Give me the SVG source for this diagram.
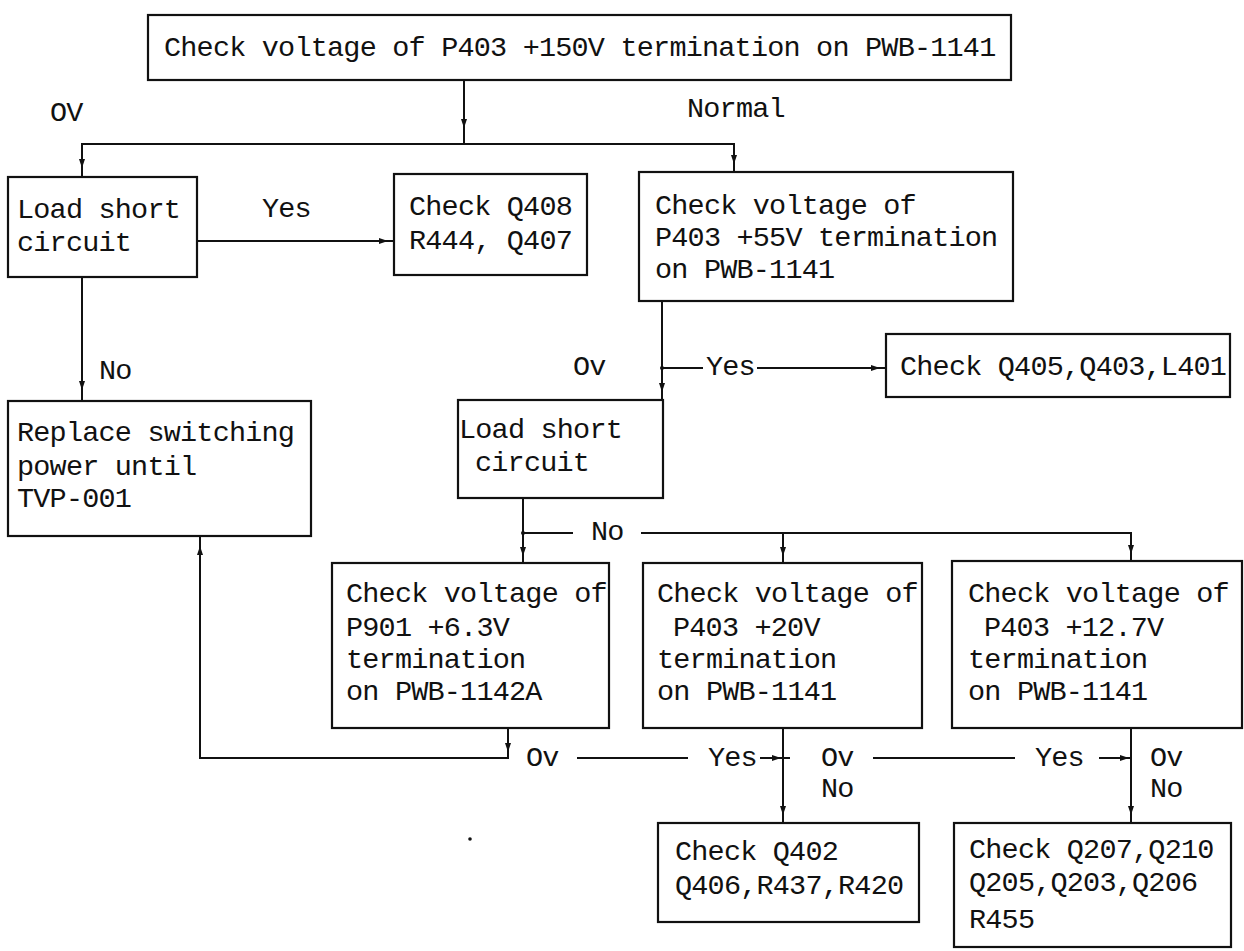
<svg xmlns="http://www.w3.org/2000/svg" width="1244" height="951" viewBox="0 0 1244 951">
<defs>
<style>
.box{fill:none;stroke:#111;stroke-width:2.2}
.ln{fill:none;stroke:#111;stroke-width:2}
text{font-family:"Liberation Mono","Courier New",monospace;font-size:28.5px;letter-spacing:-0.8px;fill:#111}
.ah{fill:#111}
</style>
<path id="ad" class="ah" d="M-3,-9 L3,-9 L0,0 Z"/>
</defs>
<rect width="1244" height="951" fill="#fff"/>

<g id="connectors">
<path class="ln" d="M464,80 V144"/>
<path class="ln" d="M82,177 V144 H734 V172"/>
<path class="ln" d="M197,241 H394"/>
<path class="ln" d="M82,277 V401"/>
<path class="ln" d="M662,301 V400"/>
<path class="ln" d="M662,368 H703 M757,368 H886"/>
<path class="ln" d="M523,498 V563"/>
<path class="ln" d="M523,533 H573 M641,533 H1131 V561 M783,533 V563"/>
<path class="ln" d="M508,728 V758 H200 V536"/>
<path class="ln" d="M577,758 H688 M760,758 H790"/>
<path class="ln" d="M873,758 H1015 M1099,758 H1131"/>
<path class="ln" d="M783,728 V823"/>
<path class="ln" d="M1131,728 V823"/>
<use href="#ad" transform="translate(464,128)"/>
<use href="#ad" transform="translate(82,168)"/>
<use href="#ad" transform="translate(734,164)"/>
<use href="#ad" transform="translate(388,241) rotate(-90)"/>
<use href="#ad" transform="translate(82,390)"/>
<use href="#ad" transform="translate(662,392)"/>
<use href="#ad" transform="translate(880,368) rotate(-90)"/>
<use href="#ad" transform="translate(523,556)"/>
<use href="#ad" transform="translate(783,556)"/>
<use href="#ad" transform="translate(1131,554)"/>
<use href="#ad" transform="translate(508,752)"/>
<use href="#ad" transform="translate(200,546) rotate(180)"/>
<use href="#ad" transform="translate(783,815)"/>
<use href="#ad" transform="translate(1131,815)"/>
<use href="#ad" transform="translate(781,758) rotate(-90)"/>
<use href="#ad" transform="translate(1129,758) rotate(-90)"/>
<circle cx="662" cy="368" r="2" fill="#111"/>
<circle cx="523" cy="533" r="2" fill="#111"/>
<text x="50" y="121">OV</text>
<text x="687" y="117">Normal</text>
<text x="262" y="217">Yes</text>
<text x="99" y="379">No</text>
<text x="573" y="375">Ov</text>
<text x="706" y="375">Yes</text>
<text x="591" y="540">No</text>
<text x="526" y="766">Ov</text>
<text x="708" y="766">Yes</text>
<text x="821" y="766">Ov</text>
<text x="821" y="797">No</text>
<text x="1035" y="766">Yes</text>
<text x="1150" y="766">Ov</text>
<text x="1150" y="797">No</text>
</g>

<g id="n1">
<rect class="box" x="148" y="15" width="863" height="65"/>
<text x="164" y="56">Check voltage of P403 +150V termination on PWB-1141</text>
</g>
<g id="n2">
<rect class="box" x="8" y="177" width="189" height="100"/>
<text x="17" y="218">Load short</text>
<text x="17" y="251">circuit</text>
</g>
<g id="n3">
<rect class="box" x="394" y="174" width="193" height="101"/>
<text x="409" y="215">Check Q408</text>
<text x="409" y="249">R444, Q407</text>
</g>
<g id="n4">
<rect class="box" x="639" y="172" width="374" height="129"/>
<text x="655" y="214">Check voltage of</text>
<text x="655" y="246">P403 +55V termination</text>
<text x="655" y="278">on PWB-1141</text>
</g>
<g id="n5">
<rect class="box" x="886" y="334" width="344" height="63"/>
<text x="900" y="375">Check Q405,Q403,L401</text>
</g>
<g id="n6">
<rect class="box" x="8" y="401" width="303" height="135"/>
<text x="17" y="441">Replace switching</text>
<text x="17" y="475">power until</text>
<text x="17" y="507">TVP-001</text>
</g>
<g id="n7">
<rect class="box" x="458" y="400" width="205" height="98"/>
<text x="459" y="438">Load short</text>
<text x="475" y="471">circuit</text>
</g>
<g id="n8">
<rect class="box" x="332" y="563" width="277" height="165"/>
<text x="346" y="602">Check voltage of</text>
<text x="346" y="636">P901 +6.3V</text>
<text x="346" y="668">termination</text>
<text x="346" y="700">on PWB-1142A</text>
</g>
<g id="n9">
<rect class="box" x="643" y="563" width="279" height="165"/>
<text x="657" y="602">Check voltage of</text>
<text x="673" y="636">P403 +20V</text>
<text x="657" y="668">termination</text>
<text x="657" y="700">on PWB-1141</text>
</g>
<g id="n10">
<rect class="box" x="952" y="561" width="290" height="167"/>
<text x="968" y="602">Check voltage of</text>
<text x="984" y="636">P403 +12.7V</text>
<text x="968" y="668">termination</text>
<text x="968" y="700">on PWB-1141</text>
</g>
<g id="n11">
<rect class="box" x="658" y="823" width="261" height="99"/>
<text x="675" y="860">Check Q402</text>
<text x="675" y="894">Q406,R437,R420</text>
</g>
<g id="n12">
<rect class="box" x="954" y="823" width="277" height="124"/>
<text x="969" y="858">Check Q207,Q210</text>
<text x="969" y="891">Q205,Q203,Q206</text>
<text x="969" y="928">R455</text>
</g>
<circle cx="470" cy="839" r="1.8" fill="#111"/>
</svg>
